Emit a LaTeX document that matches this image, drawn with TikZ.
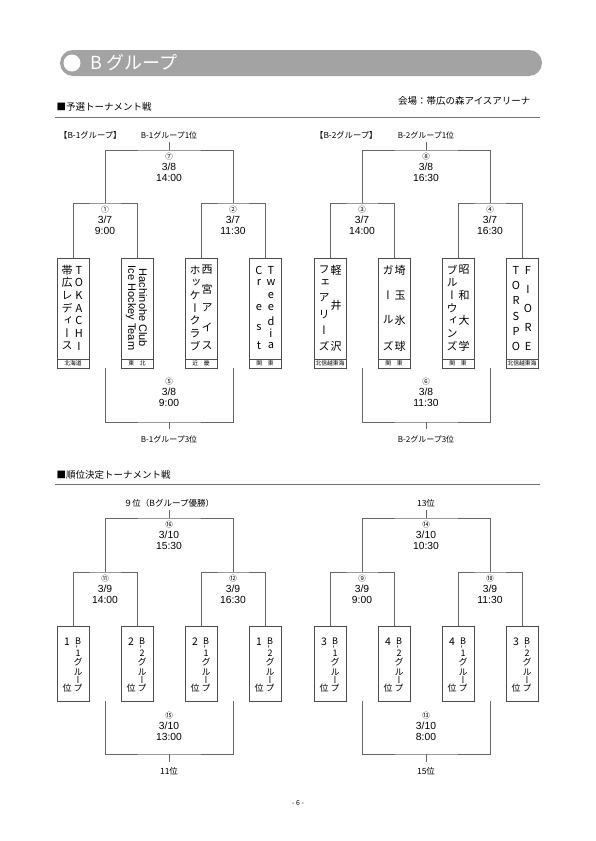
\documentclass[tikz,border=0pt]{standalone}
\usepackage{fontspec}
\setmainfont{Noto Sans CJK JP}
\newfontfamily\vjp[RawFeature=+vert]{Noto Sans CJK JP}
\newfontfamily\lat{Liberation Sans}
\usepackage{tikz}
\usetikzlibrary{positioning,calc}
\definecolor{bargray}{RGB}{163,163,163}

% one column of vertical text: [style] name, x, list of y/char
\newcommand\vcol[4][ch]{%
  \foreach \y/\c [count=\k] in {#4}
    \node[#1] (#2-\k) at (#3,\y) {\c};}
\newcommand\game[3]{{\rmfamily\fontsize{7.5}{7.5}\selectfont #1}\\#2\\#3}

\begin{document}
\begin{tikzpicture}[x=1pt,y=-1pt,
  font=\fontsize{9.5}{11}\selectfont,
  line/.style={draw=black!60,line width=.6pt},
  rule/.style={draw=black!55,line width=.7pt},
  team/.style={draw=black!70,line width=.6pt,minimum width=32pt,inner sep=0pt},
  region/.style={draw=black!70,line width=.6pt,minimum width=32pt,minimum height=9pt,inner sep=0pt,font=\fontsize{5.8}{6}\selectfont},
  ch/.style={font=\vjp\fontsize{11}{11}\selectfont,inner sep=0pt},
  chs/.style={font=\vjp\fontsize{9}{9}\selectfont,inner sep=0pt},
  big/.style={font=\fontsize{10.5}{10.5}\selectfont,inner sep=0pt},
  latin/.style={font=\lat\fontsize{11}{11}\selectfont,rotate=-90,inner sep=0pt},
  match/.style={align=center,inner sep=0pt,font=\lat\fontsize{10.3}{11}\selectfont},
  lab/.style={font=\fontsize{8}{8}\selectfont,inner sep=1pt}]

\path[use as bounding box] (0,0) rectangle (595,841);

% title bar
\fill[bargray,rounded corners=13pt] (60,50) rectangle (542,76);
\fill[white] (72,63) circle (8.5);
\node[anchor=west,text=white,font=\fontsize{18}{18}\selectfont] (title) at (87,63) {B グループ};
\node[anchor=east,font=\fontsize{9.5}{10}\selectfont] (venue) at (534,101) {会場：帯広の森アイスアリーナ};

%% ---------- preliminary ----------
\node[anchor=west] (sec1) at (53,107) {■予選トーナメント戦};
\draw[rule] (55,117) -- (540,117);
\node[anchor=west,lab,font=\fontsize{8.3}{8}\selectfont] (grp1) at (58,135) {【B-1グループ】};
\node[anchor=west,lab,font=\fontsize{8.3}{8}\selectfont] (grp2) at (314,135) {【B-2グループ】};
\node[lab] (w1) at (169,135) {B-1グループ1位};
\node[lab] (w2) at (426,135) {B-2グループ1位};

\foreach \i/\x/\r in {1/73/北海道,2/137/東　北,3/201/近　畿,4/265/関　東,
                      5/330/北信越東海,6/394/関　東,7/458/関　東,8/522/北信越東海}{
  \node[team,minimum height=101pt] (t\i) at (\x,308.5) {};
  \node[region] (r\i) at (\x,363.5) {\r};
}

\vcol{t1-l}{67}{270/帯,282.7/広,295.3/レ,308/デ,320.7/ィ,333.3/ー,346/ス}
\vcol{t1-r}{79}{270/T,282.7/O,295.3/K,308/A,320.7/C,333.3/H,346/I}
\node[latin] (t2-r) at (143,308) {Hachinohe Club};
\node[latin] (t2-l) at (131,308) {Ice Hockey Team};
\vcol{t3-r}{207}{270/西,289/宮,308/ア,327/イ,346/ス}
\vcol{t3-l}{195}{270/ホ,282.7/ッ,295.3/ケ,308/ー,320.7/ク,333.3/ラ,346/ブ}
\vcol{t4-r}{271}{270/T,282.7/w,295.3/e,308/e,320.7/d,333.3/i,346/a}
\vcol{t4-l}{259}{270/C,282/r,308/e,328/s,346/t}
\vcol{t5-r}{336}{270/軽,305/井,346/沢}
\vcol{t5-l}{324}{270/フ,283/ェ,298/ア,315/リ,330/ー,346/ズ}
\vcol{t6-r}{400}{270/埼,295/玉,320/氷,346/球}
\vcol{t6-l}{388}{270/ガ,295/ー,320/ル,346/ズ}
\vcol{t7-r}{464}{270/昭,295/和,320/大,346/学}
\vcol{t7-l}{452}{270/ブ,282.7/ル,295.3/ー,308/ウ,320.7/ィ,333.3/ン,346/ズ}
\vcol{t8-r}{528}{270/F,289/I,308/O,327/R,346/E}
\vcol{t8-l}{516}{270/T,285/O,300/R,316/S,331/P,346/O}

\coordinate (m1) at (105,203);
\coordinate (m2) at (233,203);
\coordinate (m3) at (362,203);
\coordinate (m4) at (490,203);
\coordinate (m7) at (169,150);
\coordinate (m8) at (426,150);
\coordinate (m5) at (169,422);
\coordinate (m6) at (426,422);

\node[match] (g1) at (105,220) {\game{①}{3/7}{9:00}};
\node[match] (g2) at (233,220) {\game{②}{3/7}{11:30}};
\node[match] (g3) at (362,220) {\game{③}{3/7}{14:00}};
\node[match] (g4) at (490,220) {\game{④}{3/7}{16:30}};
\node[match] (g7) at (169,167) {\game{⑦}{3/8}{14:00}};
\node[match] (g8) at (426,167) {\game{⑧}{3/8}{16:30}};
\node[match] (g5) at (169,392) {\game{⑤}{3/8}{9:00}};
\node[match] (g6) at (426,392) {\game{⑥}{3/8}{11:30}};

\draw[line] (t1.north) |- (m1) -| (t2.north);
\draw[line] (t3.north) |- (m2) -| (t4.north);
\draw[line] (t5.north) |- (m3) -| (t6.north);
\draw[line] (t7.north) |- (m4) -| (t8.north);
\draw[line] (m1) |- (m7) -| (m2);
\draw[line] (m3) |- (m8) -| (m4);
\draw[line,shorten >=2pt] (m7) -- (w1.south);
\draw[line,shorten >=2pt] (m8) -- (w2.south);
\draw[line] (m1 |- r1.south) |- (m5) -| (m2 |- r1.south);
\draw[line] (m3 |- r5.south) |- (m6) -| (m4 |- r5.south);

\node[lab] (k1) at (169,439) {B-1グループ3位};
\node[lab] (k2) at (426,439) {B-2グループ3位};
\draw[line,shorten >=5pt] (m5) -- (k1.north);
\draw[line,shorten >=5pt] (m6) -- (k2.north);

%% ---------- placement ----------
\node[anchor=west] (sec2) at (53,475) {■順位決定トーナメント戦};
\draw[rule] (55,484) -- (540,484);
\node[lab,font=\fontsize{8.5}{8}\selectfont] (p9) at (169,503) {９位（Bグループ優勝）};
\node[lab,font=\fontsize{8.5}{8}\selectfont] (p13) at (426,503) {13位};
\node[lab,font=\fontsize{8.5}{8}\selectfont] (p11) at (169,771) {11位};
\node[lab,font=\fontsize{8.5}{8}\selectfont] (p15) at (426,771) {15位};

\foreach \i/\x/\n/\g in {1/73/1/1,2/137/2/2,3/201/2/1,4/265/1/2,
                         5/330/3/1,6/394/4/2,7/458/4/1,8/522/3/2}{
  \node[team,minimum height=75pt] (s\i) at (\x,663.5) {};
  \node[big] (s\i-n) at (\x-6,642) {\n};
  \node[chs] (s\i-p) at (\x-6,688) {位};
  \vcol[chs]{s\i-g}{\x+5}{641/B,647/{\rotatebox{90}{-}},653/\g,662/グ,672/ル,680/ー,688/プ}
}

\coordinate (m11) at (105,572);
\coordinate (m12) at (233,572);
\coordinate (m9) at (362,572);
\coordinate (m10) at (490,572);
\coordinate (m16) at (169,518);
\coordinate (m14) at (426,518);
\coordinate (m15) at (169,754);
\coordinate (m13) at (426,754);

\node[match] (g11) at (105,589) {\game{⑪}{3/9}{14:00}};
\node[match] (g12) at (233,589) {\game{⑫}{3/9}{16:30}};
\node[match] (g9) at (362,589) {\game{⑨}{3/9}{9:00}};
\node[match] (g10) at (490,589) {\game{⑩}{3/9}{11:30}};
\node[match] (g16) at (169,535) {\game{⑯}{3/10}{15:30}};
\node[match] (g14) at (426,535) {\game{⑭}{3/10}{10:30}};
\node[match] (g15) at (169,726) {\game{⑮}{3/10}{13:00}};
\node[match] (g13) at (426,726) {\game{⑬}{3/10}{8:00}};

\draw[line] (s1.north) |- (m11) -| (s2.north);
\draw[line] (s3.north) |- (m12) -| (s4.north);
\draw[line] (s5.north) |- (m9) -| (s6.north);
\draw[line] (s7.north) |- (m10) -| (s8.north);
\draw[line] (m11) |- (m16) -| (m12);
\draw[line] (m9) |- (m14) -| (m10);
\draw[line,shorten >=2pt] (m16) -- (p9.south);
\draw[line,shorten >=2pt] (m14) -- (p13.south);
\draw[line] (m11 |- s1.south) |- (m15) -| (m12 |- s1.south);
\draw[line] (m9 |- s5.south) |- (m13) -| (m10 |- s5.south);
\draw[line,shorten >=4pt] (m15) -- (p11.north);
\draw[line,shorten >=4pt] (m13) -- (p15.north);

\node[font=\fontsize{7}{7}\selectfont] (page) at (298,803) {- 6 -};

\end{tikzpicture}
\end{document}
